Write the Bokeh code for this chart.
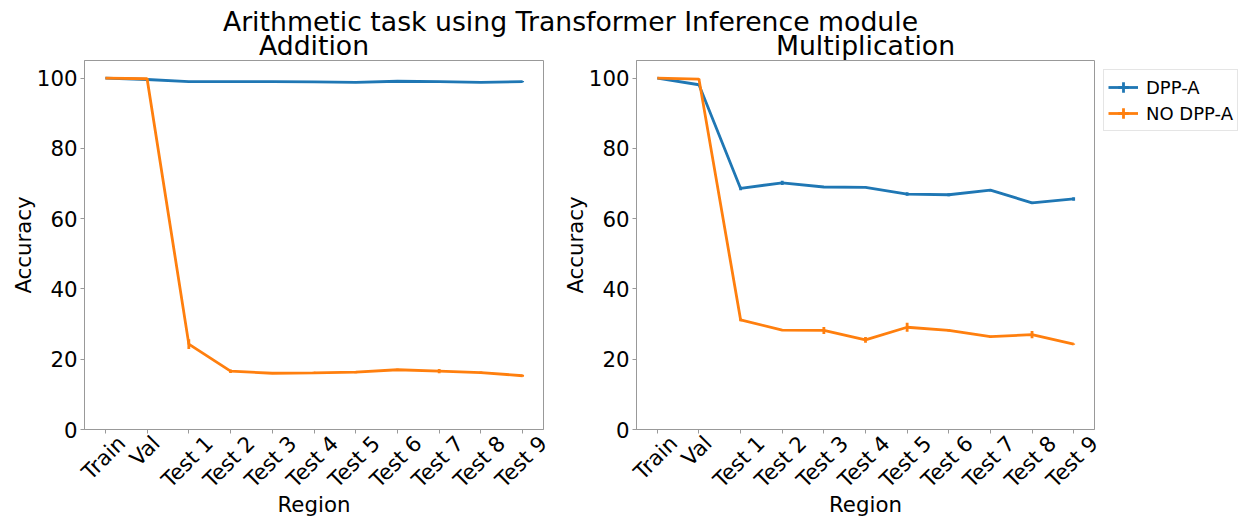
import math
from bokeh.plotting import figure
from bokeh.models import (ColumnDataSource, FixedTicker, Label, Legend,
                          LegendItem, Range1d, LinearAxis)
from bokeh.layouts import column, row
from bokeh.embed import file_html
from bokeh.resources import INLINE

# ---------------- data ----------------
regions = ["Train", "Val", "Test 1", "Test 2", "Test 3", "Test 4", "Test 5",
           "Test 6", "Test 7", "Test 8", "Test 9"]

add_dppa = [100.0, 99.6, 99.0, 99.0, 99.0, 98.9, 98.8, 99.1, 99.0, 98.8, 99.0]
add_dppa_err = [0.0, 0.1, 0.2, 0.2, 0.2, 0.2, 0.2, 0.2, 0.2, 0.2, 0.2]
add_nodppa = [100.0, 99.8, 24.3, 16.6, 16.0, 16.1, 16.3, 17.0, 16.6, 16.2, 15.3]
add_nodppa_err = [0.0, 0.1, 1.4, 0.5, 0.2, 0.3, 0.3, 0.3, 0.6, 0.3, 0.3]

mul_dppa = [100.0, 98.1, 68.6, 70.2, 69.0, 68.9, 67.0, 66.8, 68.1, 64.5, 65.6]
mul_dppa_err = [0.0, 0.2, 0.5, 0.6, 0.2, 0.2, 0.5, 0.4, 0.3, 0.3, 0.5]
mul_nodppa = [100.0, 99.7, 31.2, 28.3, 28.2, 25.5, 29.1, 28.2, 26.4, 27.0, 24.3]
mul_nodppa_err = [0.0, 0.1, 0.4, 0.3, 1.0, 0.8, 1.3, 0.3, 0.3, 1.0, 0.2]

y_ticks = [0, 20, 40, 60, 80, 100]
series_names = ["DPP-A", "NO DPP-A"]
suptitle = "Arithmetic task using Transformer Inference module"
subtitles = ["Addition", "Multiplication"]

# ---------------- style ----------------
FONT = "DejaVu Sans"
BLUE = "#1f77b4"
ORANGE = "#ff7f0e"
GRAY = "#999999"
TICK_FS = 21.3
LABEL_FS = "21.3px"
TITLE_FS = "26.7px"
LW = 2.8
FRAME_H = 369

CHAR_W = {"T": 0.611, "r": 0.411, "a": 0.613, "i": 0.278, "n": 0.634, "V": 0.684,
          "l": 0.278, "e": 0.615, "s": 0.521, "t": 0.392, " ": 0.318}


def text_w(s, fs):
    return sum(CHAR_W.get(c, 0.636) for c in s) * fs


def make_panel(vals_a, err_a, vals_b, err_b, frame_w, border_l, border_r, legend=False):
    p = figure(frame_width=frame_w, frame_height=FRAME_H,
               x_range=Range1d(-0.5, 10.5), y_range=Range1d(0, 105),
               min_border_left=border_l, min_border_right=border_r,
               min_border_top=0, min_border_bottom=82,
               toolbar_location=None, output_backend="svg")
    p.grid.visible = False
    p.outline_line_color = GRAY
    p.border_fill_color = "white"

    idx = list(range(len(regions)))
    rends = []
    for vals, errs, col in ((vals_a, err_a, BLUE), (vals_b, err_b, ORANGE)):
        src = ColumnDataSource(dict(
            x=idx, y=vals,
            lo=[v - e for v, e in zip(vals, errs)],
            hi=[v + e for v, e in zip(vals, errs)]))
        ln = p.line("x", "y", source=src, line_color=col, line_width=LW)
        p.segment("x", "lo", "x", "hi", source=src, line_color=col, line_width=LW)
        mk = p.scatter("x", "y", source=src, marker="cross", size=0,
                       line_color=col, line_width=LW)
        rends.append((ln, mk))

    # y axis
    ya = p.yaxis[0]
    ya.ticker = FixedTicker(ticks=y_ticks)
    ya.major_label_text_font = FONT
    ya.major_label_text_font_size = f"{TICK_FS}px"
    ya.major_label_text_color = "black"
    ya.major_label_standoff = 3
    ya.major_tick_out = 4
    ya.major_tick_in = 0
    ya.minor_tick_line_color = None
    ya.major_tick_line_color = GRAY
    ya.axis_line_color = GRAY
    ya.axis_label = "Accuracy"
    ya.axis_label_text_font = FONT
    ya.axis_label_text_font_size = LABEL_FS
    ya.axis_label_text_font_style = "normal"
    ya.axis_label_text_color = "black"
    ya.axis_label_standoff = -2

    # x axis: tick marks only
    xa = p.xaxis[0]
    xa.ticker = FixedTicker(ticks=idx)
    xa.major_label_overrides = {i: "" for i in idx}
    xa.major_label_text_font_size = "0px"
    xa.major_label_standoff = 0
    xa.major_tick_out = 4
    xa.major_tick_in = 0
    xa.minor_tick_line_color = None
    xa.major_tick_line_color = GRAY
    xa.axis_line_color = GRAY

    # second axis carrying the rotated tick labels, centred under the ticks
    ppu = frame_w / 11.0
    pos = [min(i + (0.354 * text_w(s, TICK_FS) - 3.0) / ppu, 10.49)
           for i, s in zip(idx, regions)]
    xb = LinearAxis(ticker=FixedTicker(ticks=pos),
                    major_label_overrides={v: s for v, s in zip(pos, regions)},
                    major_label_orientation=math.pi / 4,
                    major_label_text_font=FONT,
                    major_label_text_font_size=f"{TICK_FS}px",
                    major_label_text_color="black",
                    major_label_standoff=0,
                    major_tick_line_color=None, minor_tick_line_color=None,
                    axis_line_color=None,
                    axis_label="Region", axis_label_text_font=FONT,
                    axis_label_text_font_size=LABEL_FS,
                    axis_label_text_font_style="normal",
                    axis_label_text_color="black",
                    axis_label_standoff=-12)
    p.add_layout(xb, "below")

    if legend:
        items = [LegendItem(label=series_names[k], renderers=list(rends[k]))
                 for k in range(2)]
        lg = Legend(items=items, location="top_left", glyph_width=30,
                    glyph_height=26, label_height=26, label_standoff=8, spacing=0,
                    padding=4, margin=9, label_text_font=FONT,
                    label_text_color="black",
                    label_text_font_size="18px", border_line_color="#cccccc",
                    border_line_width=1, background_fill_alpha=0.8)
        p.add_layout(lg, "right")
    return p


p1 = make_panel(add_dppa, add_dppa_err, add_nodppa, add_nodppa_err, 459, 84, 9)
p2 = make_panel(mul_dppa, mul_dppa_err, mul_nodppa, mul_nodppa_err, 458, 84, 154,
                legend=True)

# title strip
t = figure(width=1248, height=60, x_range=Range1d(0, 1248), y_range=Range1d(0, 60),
           min_border=0, toolbar_location=None, x_axis_location=None,
           y_axis_location=None, outline_line_color=None, output_backend="svg")
t.grid.visible = False
t.border_fill_color = "white"
t.add_layout(Label(x=570, y=39, text=suptitle, text_align="center",
                   text_baseline="alphabetic", text_font=FONT,
                   text_font_size=TITLE_FS, text_color="black"))
t.add_layout(Label(x=313.5, y=15.5, text=subtitles[0], text_align="center",
                   text_baseline="alphabetic", text_font=FONT,
                   text_font_size=TITLE_FS, text_color="black"))
t.add_layout(Label(x=865, y=15.5, text=subtitles[1], text_align="center",
                   text_baseline="alphabetic", text_font=FONT,
                   text_font_size=TITLE_FS, text_color="black"))

layout = column(t, row(p1, p2, spacing=0), spacing=0)
open("out.html", "w").write(file_html(layout, INLINE))
